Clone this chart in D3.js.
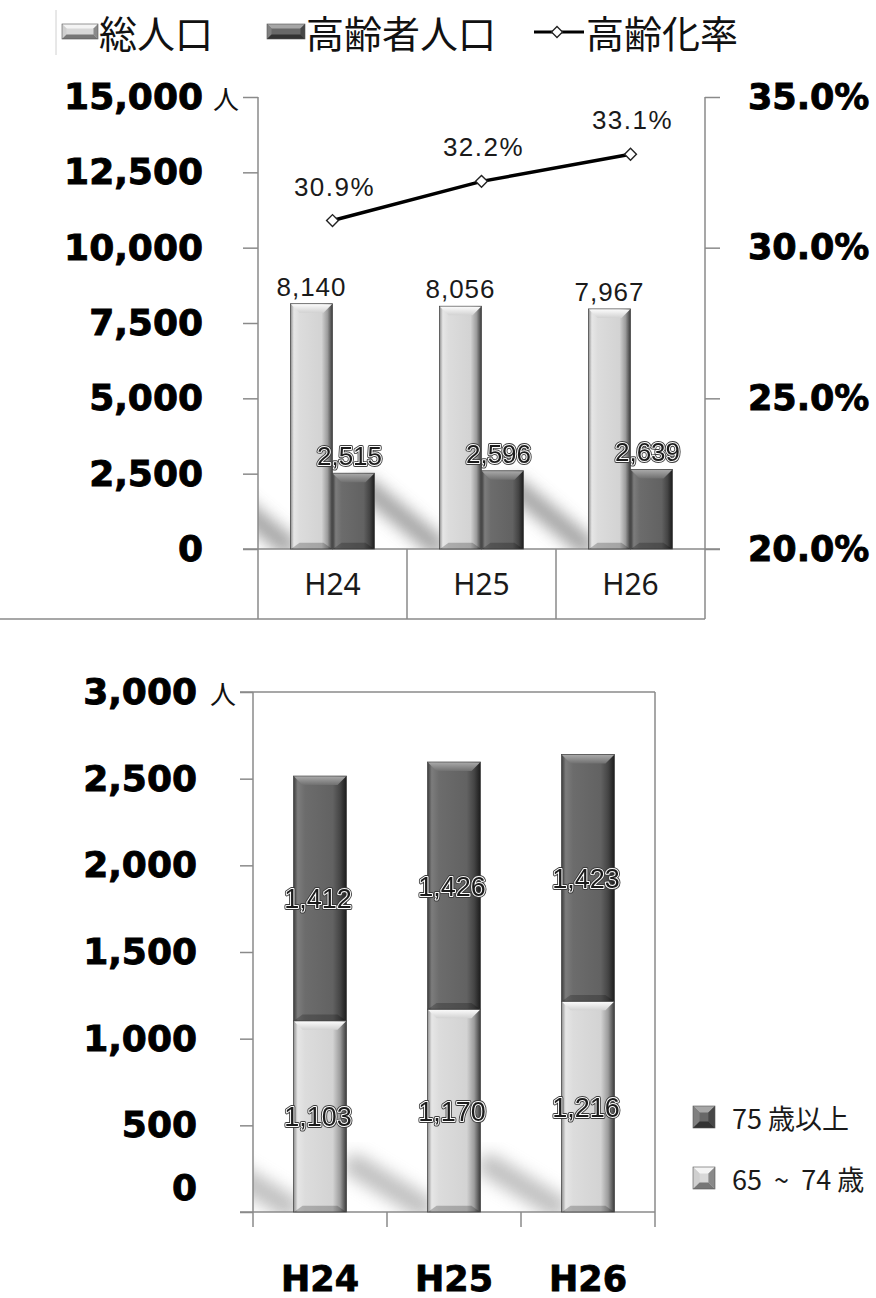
<!DOCTYPE html>
<html>
<head>
<meta charset="utf-8">
<script src="https://cdn.jsdelivr.net/npm/d3@7"></script>
<style>
  body { margin: 0; background: #fff; }
  svg { display: block; }
  .big-tick text { font-family: "DejaVu Sans", sans-serif; font-weight: bold; fill: #000; stroke: #000; stroke-width: 0.9px; }
  .big-tick line { stroke: #8a8a8a; stroke-width: 1.5px; }
</style>
</head>
<body>
<div id="chart"></div>
<script>
// data
const years = ["H24", "H25", "H26"];
const totalPop = [8140, 8056, 7967];      // 総人口
const elderlyPop = [2515, 2596, 2639];    // 高齢者人口
const agingRate = [30.9, 32.2, 33.1];     // 高齢化率 (%)
const age65to74 = [1103, 1170, 1216];
const age75plus = [1412, 1426, 1423];
const popTicks = [0, 2500, 5000, 7500, 10000, 12500, 15000];
const rateTicks = [20, 25, 30, 35];
const elderTicks = [0, 500, 1000, 1500, 2000, 2500, 3000];
const legendTop = ["総人口", "高齢者人口", "高齢化率"];
const legendBottom = ["75 歳以上", "65  ~  74 歳"];

const W = 876, H = 1298;
const svg = d3.select("#chart").append("svg").attr("width", W).attr("height", H);
const defs = svg.append("defs");

function hGrad(id, stops, vertical) {
  const g = defs.append("linearGradient").attr("id", id)
    .attr("x1", 0).attr("y1", 0).attr("x2", vertical ? 0 : 1).attr("y2", vertical ? 1 : 0);
  stops.forEach(s => g.append("stop").attr("offset", s[0]).attr("stop-color", s[1]));
}
hGrad("lightBody", [[0, "#8e8e8e"], [0.08, "#e6e6e6"], [0.22, "#dcdcdc"], [0.74, "#d3d3d3"], [0.88, "#9c9c9c"], [1, "#3a3a3a"]]);
hGrad("darkBody", [[0, "#3c3c3c"], [0.08, "#7c7c7c"], [0.22, "#6c6c6c"], [0.74, "#626262"], [0.88, "#454545"], [1, "#1c1c1c"]]);
hGrad("lightTop", [[0, "#fbfbfb"], [1, "#d2d2d2"]], true);
hGrad("darkTop", [[0, "#a8a8a8"], [1, "#707070"]], true);

const blur = defs.append("filter").attr("id", "blur").attr("x", -0.6).attr("y", -0.6).attr("width", 2.2).attr("height", 2.2);
blur.append("feGaussianBlur").attr("stdDeviation", 8);

// 3D looking bar
function drawBar(sel, x, y0, w, h, tone) {
  const b = Math.min(9, h / 2);
  sel.append("rect")
    .attr("x", x).attr("y", y0).attr("width", w).attr("height", h)
    .attr("fill", `url(#${tone}Body)`)
    .attr("stroke", "#4a4a4a").attr("stroke-width", 0.8);
  sel.append("path")
    .attr("d", `M${x + 0.5},${y0 + 0.5}H${x + w - 0.5}L${x + w - b},${y0 + b}H${x + b}Z`)
    .attr("fill", `url(#${tone}Top)`);
  sel.append("path")
    .attr("d", `M${x + 0.5},${y0 + h}H${x + w - 0.5}L${x + w - b},${y0 + h - b * 0.7}H${x + b}Z`)
    .attr("fill", "#000").attr("opacity", 0.22);
}

// bevelled legend swatch
function drawSwatch(sel, x, y, w, h, tone) {
  const c = tone === "light"
    ? ["#f4f4f4", "#cfcfcf", "#8a8a8a", "#777", "#d8d8d8"]
    : ["#a6a6a6", "#808080", "#474747", "#333", "#686868"];
  const b = Math.min(w, h) * 0.3;
  sel.append("rect").attr("x", x).attr("y", y).attr("width", w).attr("height", h).attr("fill", c[4]);
  sel.append("path").attr("d", `M${x},${y}H${x + w}L${x + w - b},${y + b}H${x + b}Z`).attr("fill", c[0]);
  sel.append("path").attr("d", `M${x},${y}L${x + b},${y + b}V${y + h - b}L${x},${y + h}Z`).attr("fill", c[1]);
  sel.append("path").attr("d", `M${x + w},${y}L${x + w - b},${y + b}V${y + h - b}L${x + w},${y + h}Z`).attr("fill", c[2]);
  sel.append("path").attr("d", `M${x},${y + h}H${x + w}L${x + w - b},${y + h - b}H${x + b}Z`).attr("fill", c[3]);
  sel.append("rect").attr("x", x).attr("y", y).attr("width", w).attr("height", h)
    .attr("fill", "none").attr("stroke", "#555").attr("stroke-width", 0.6);
}

// value label with white ring and dark edge
function haloText(sel, x, y, txt, size) {
  const t = sel.append("g")
    .attr("font-family", "'Liberation Sans', Arial, sans-serif")
    .attr("font-size", size).attr("text-anchor", "middle")
    .attr("opacity", 0.99);
  t.append("text").attr("x", x).attr("y", y).text(txt)
    .attr("fill", "#3a3a3a").attr("stroke", "#3a3a3a").attr("stroke-width", 3.8).attr("stroke-linejoin", "round");
  t.append("text").attr("x", x).attr("y", y).text(txt)
    .attr("fill", "#1a1a1a").attr("stroke", "#fff").attr("stroke-width", 2)
    .attr("stroke-linejoin", "round").attr("paint-order", "stroke");
}

/* ---------------- legend (top) ---------------- */
const leg = svg.append("g").attr("font-family", "'Noto Sans CJK JP', sans-serif").attr("font-size", 38).attr("fill", "#111");
leg.append("line").attr("x1", 56).attr("x2", 56).attr("y1", 10).attr("y2", 55).attr("stroke", "#d0d0d0");
drawSwatch(leg.append("g"), 62, 24, 36, 15, "light");
leg.append("text").attr("x", 99).attr("y", 31).attr("dominant-baseline", "central").text(legendTop[0]);
drawSwatch(leg.append("g"), 267, 24, 38, 15, "dark");
leg.append("text").attr("x", 306).attr("y", 31).attr("dominant-baseline", "central").text(legendTop[1]);
leg.append("line").attr("x1", 534).attr("x2", 584).attr("y1", 32).attr("y2", 32).attr("stroke", "#000").attr("stroke-width", 3);
leg.append("path").attr("d", d3.symbol(d3.symbolSquare, 60)()).attr("transform", "translate(557,32) rotate(45)")
  .attr("fill", "#fff").attr("stroke", "#222").attr("stroke-width", 1.3);
leg.append("text").attr("x", 586).attr("y", 31).attr("dominant-baseline", "central").text(legendTop[2]);

/* ---------------- top chart ---------------- */
const pTop = { left: 258, right: 705, top: 97, bottom: 549, catBottom: 619 };
const x0 = d3.scaleBand().domain(years).range([pTop.left, pTop.right]);
const x1 = d3.scaleBand().domain(["total", "elderly"]).range([0, 84]);
const groupOff = (x0.bandwidth() - 84) / 2;
const y = d3.scaleLinear().domain([0, 15000]).range([pTop.bottom, pTop.top]);
const yR = d3.scaleLinear().domain([20, 35]).range([pTop.bottom, pTop.top]);

const g1 = svg.append("g");
g1.append("clipPath").attr("id", "clipTop").append("rect")
  .attr("x", pTop.left).attr("y", pTop.top).attr("width", pTop.right - pTop.left).attr("height", pTop.bottom - pTop.top);

// soft diagonal shadows
g1.append("g").attr("clip-path", "url(#clipTop)").selectAll("line").data(years).join("line")
  .attr("x1", d => x0(d) + groupOff - 74).attr("y1", pTop.bottom - 62)
  .attr("x2", d => x0(d) + groupOff - 4).attr("y2", pTop.bottom - 4)
  .attr("stroke", "#8a8a8a").attr("stroke-width", 20).attr("stroke-linecap", "round")
  .attr("filter", "url(#blur)").attr("opacity", 0.8);

// axes
const yAxisL = d3.axisLeft(y).tickValues(popTicks).tickSize(15).tickPadding(40).tickFormat(d3.format(","));
g1.append("g").attr("class", "big-tick").attr("transform", `translate(${pTop.left},0)`).call(yAxisL)
  .call(a => a.select(".domain").remove())
  .call(a => a.selectAll("text").attr("font-size", 36));
const yAxisR = d3.axisRight(yR).tickValues(rateTicks).tickSize(15).tickPadding(28).tickFormat(d => d.toFixed(1) + "%");
g1.append("g").attr("class", "big-tick").attr("transform", `translate(${pTop.right},0)`).call(yAxisR)
  .call(a => a.select(".domain").remove())
  .call(a => a.selectAll("text").attr("font-size", 35));
g1.append("text").attr("x", 213).attr("y", y(15000)).attr("dominant-baseline", "central")
  .attr("font-family", "'Noto Sans CJK JP', sans-serif").attr("font-size", 26).attr("fill", "#111").text("人");

const grid = g1.append("g").attr("stroke", "#8a8a8a").attr("stroke-width", 1.5);
grid.append("line").attr("x1", pTop.left).attr("x2", pTop.left).attr("y1", pTop.top).attr("y2", pTop.catBottom);
grid.append("line").attr("x1", pTop.right).attr("x2", pTop.right).attr("y1", pTop.top).attr("y2", pTop.catBottom);
grid.append("line").attr("x1", 243).attr("x2", 720).attr("y1", pTop.bottom).attr("y2", pTop.bottom);
grid.append("line").attr("x1", 0).attr("x2", pTop.right).attr("y1", pTop.catBottom).attr("y2", pTop.catBottom);
grid.selectAll(".sep").data(years.slice(1)).join("line").attr("class", "sep")
  .attr("x1", d => x0(d)).attr("x2", d => x0(d)).attr("y1", pTop.bottom).attr("y2", pTop.catBottom);

g1.append("g").selectAll("text").data(years).join("text")
  .attr("x", d => x0(d) + x0.bandwidth() / 2).attr("y", 595)
  .attr("text-anchor", "middle").attr("font-family", "'Noto Sans', sans-serif").attr("font-size", 30)
  .attr("fill", "#1a1a1a").text(d => d);

// bars
const topBars = years.flatMap((yr, i) => [
  { year: yr, key: "total", value: totalPop[i] },
  { year: yr, key: "elderly", value: elderlyPop[i] }
]);
g1.append("g").selectAll("g").data(topBars).join("g")
  .each(function (d) {
    const bx = x0(d.year) + groupOff + x1(d.key);
    drawBar(d3.select(this), bx, y(d.value), x1.bandwidth(), pTop.bottom - y(d.value), d.key === "total" ? "light" : "dark");
  });

// bar labels
const barLab = g1.append("g");
topBars.forEach(d => {
  const cx = x0(d.year) + groupOff + x1(d.key) + x1.bandwidth() / 2;
  if (d.key === "total") {
    barLab.append("text").attr("x", cx).attr("y", y(d.value) - 8).attr("text-anchor", "middle")
      .attr("font-family", "'Liberation Sans', Arial, sans-serif").attr("font-size", 26)
      .attr("letter-spacing", 1).attr("fill", "#1a1a1a").text(d3.format(",")(d.value));
  } else {
    haloText(barLab, cx - 4, y(d.value) - 8, d3.format(",")(d.value), 26);
  }
});

// aging rate line
const rateData = years.map((yr, i) => ({ year: yr, value: agingRate[i] }));
const line = d3.line().x(d => x0(d.year) + x0.bandwidth() / 2).y(d => yR(d.value));
g1.append("path").datum(rateData).attr("d", line).attr("fill", "none").attr("stroke", "#000").attr("stroke-width", 3.5);
g1.append("g").selectAll("path").data(rateData).join("path")
  .attr("d", d3.symbol(d3.symbolSquare, 70)())
  .attr("transform", d => `translate(${x0(d.year) + x0.bandwidth() / 2},${yR(d.value)}) rotate(45)`)
  .attr("fill", "#fff").attr("stroke", "#222").attr("stroke-width", 1.4);
g1.append("g").selectAll("text").data(rateData).join("text")
  .attr("x", d => x0(d.year) + x0.bandwidth() / 2 + 2).attr("y", d => yR(d.value) - 25)
  .attr("text-anchor", "middle").attr("font-family", "'Liberation Sans', Arial, sans-serif")
  .attr("font-size", 26).attr("letter-spacing", 1.5).attr("fill", "#1a1a1a")
  .text(d => d.value.toFixed(1) + "%");

/* ---------------- bottom chart ---------------- */
const pBot = { left: 253, right: 655, top: 692, bottom: 1212 };
const xb = d3.scaleBand().domain(years).range([pBot.left, pBot.right]);
const barW = 53;
const yb = d3.scaleLinear().domain([0, 3000]).range([pBot.bottom, pBot.top]);

const g2 = svg.append("g");
g2.append("clipPath").attr("id", "clipBot").append("rect")
  .attr("x", pBot.left).attr("y", pBot.top).attr("width", pBot.right - pBot.left).attr("height", pBot.bottom - pBot.top);

g2.append("g").attr("clip-path", "url(#clipBot)").selectAll("line").data(years).join("line")
  .attr("x1", d => xb(d) + (xb.bandwidth() - barW) / 2 - 72).attr("y1", pBot.bottom - 46)
  .attr("x2", d => xb(d) + (xb.bandwidth() - barW) / 2 - 6).attr("y2", pBot.bottom - 6)
  .attr("stroke", "#a0a0a0").attr("stroke-width", 24).attr("stroke-linecap", "round")
  .attr("filter", "url(#blur)").attr("opacity", 0.65);

const yAxisB = d3.axisLeft(yb).tickValues(elderTicks).tickSize(13).tickPadding(43).tickFormat(d3.format(","));
g2.append("g").attr("class", "big-tick").attr("transform", `translate(${pBot.left},0)`).call(yAxisB)
  .call(a => a.select(".domain").remove())
  .call(a => a.selectAll("text").attr("font-size", 36))
  .call(a => a.selectAll(".tick").filter(d => d === 0).select("text").attr("y", -24));
g2.append("text").attr("x", 210).attr("y", yb(3000)).attr("dominant-baseline", "central")
  .attr("font-family", "'Noto Sans CJK JP', sans-serif").attr("font-size", 26).attr("fill", "#111").text("人");

const frame = g2.append("g").attr("stroke", "#8a8a8a").attr("stroke-width", 1.5);
frame.append("line").attr("x1", pBot.left).attr("x2", pBot.left).attr("y1", pBot.top).attr("y2", pBot.bottom + 15);
frame.append("line").attr("x1", pBot.right).attr("x2", pBot.right).attr("y1", pBot.top).attr("y2", pBot.bottom + 15);
frame.append("line").attr("x1", 240).attr("x2", pBot.right).attr("y1", pBot.top).attr("y2", pBot.top);
frame.append("line").attr("x1", 240).attr("x2", pBot.right).attr("y1", pBot.bottom).attr("y2", pBot.bottom);
frame.selectAll(".sep").data(years.slice(1)).join("line").attr("class", "sep")
  .attr("x1", d => xb(d)).attr("x2", d => xb(d)).attr("y1", pBot.bottom).attr("y2", pBot.bottom + 15);

const rows = years.map((yr, i) => ({ year: yr, young: age65to74[i], old: age75plus[i] }));
const stacked = d3.stack().keys(["young", "old"])(rows);
stacked.forEach(layer => {
  const lg = g2.append("g");
  layer.forEach(d => {
    const bx = xb(d.data.year) + (xb.bandwidth() - barW) / 2;
    drawBar(lg.append("g"), bx, yb(d[1]), barW, yb(d[0]) - yb(d[1]), layer.key === "young" ? "light" : "dark");
  });
});
stacked.forEach(layer => {
  layer.forEach(d => {
    const cx = xb(d.data.year) + xb.bandwidth() / 2 - 2;
    haloText(g2, cx, (yb(d[0]) + yb(d[1])) / 2 + 10, d3.format(",")(d[1] - d[0]), 27);
  });
});

g2.append("g").selectAll("text").data(years).join("text")
  .attr("x", d => xb(d) + xb.bandwidth() / 2).attr("y", 1291)
  .attr("text-anchor", "middle").attr("font-family", "'DejaVu Sans', sans-serif").attr("font-weight", "bold")
  .attr("font-size", 35).attr("stroke", "#000").attr("stroke-width", 0.8).attr("fill", "#000").text(d => d);

// legend (bottom)
const leg2 = g2.append("g");
legendBottom.forEach((txt, i) => {
  const cy = 1117 + i * 61;
  drawSwatch(leg2.append("g"), 693, cy - 11, 22, 22, i === 0 ? "dark" : "light");
  leg2.append("text").attr("x", 732).attr("y", cy).attr("dominant-baseline", "central")
    .style("white-space", "pre")
    .attr("font-family", "'Noto Sans CJK JP', sans-serif").attr("font-size", 27).attr("fill", "#1a1a1a").text(txt);
});
</script>
</body>
</html>
